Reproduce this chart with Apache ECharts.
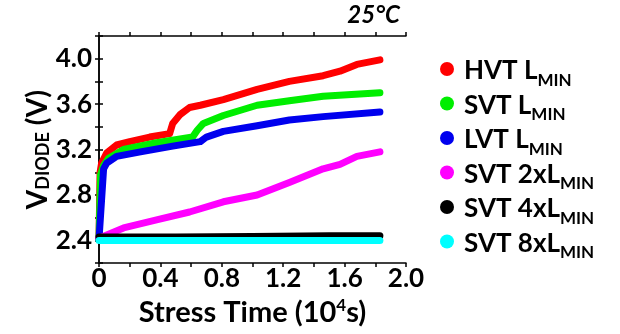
<!DOCTYPE html>
<html><head><meta charset="utf-8">
<script src="https://cdn.jsdelivr.net/npm/echarts@6/dist/echarts.min.js"></script>
<style>html,body{margin:0;padding:0;background:#fff}#c{width:620px;height:334px}</style>
</head><body><div id="c"></div>
<script>
const seriesNames = ['HVT LMIN','SVT LMIN','LVT LMIN','SVT 2xLMIN','SVT 4xLMIN','SVT 8xLMIN'];
const legendMain = ['HVT L','SVT L','LVT L','SVT 2xL','SVT 4xL','SVT 8xL'];
const legendSub = 'MIN';
const colors = ['#ff0000','#00ee00','#0000ee','#ff00ff','#000000','#00ffff'];

const hvtX = [0, 0.007, 0.017, 0.05, 0.115, 0.2, 0.33, 0.46, 0.48, 0.53, 0.59, 0.66, 0.81, 1.03, 1.24, 1.46, 1.57, 1.68, 1.83];
const hvtY = [2.41, 3.0, 3.08, 3.17, 3.24, 3.27, 3.31, 3.34, 3.43, 3.51, 3.57, 3.59, 3.64, 3.73, 3.80, 3.85, 3.89, 3.95, 3.99];
const svtX = [0, 0.01, 0.03, 0.06, 0.16, 0.375, 0.61, 0.64, 0.68, 0.81, 1.03, 1.24, 1.46, 1.83];
const svtY = [2.41, 2.98, 3.06, 3.12, 3.2, 3.26, 3.31, 3.37, 3.43, 3.50, 3.59, 3.63, 3.67, 3.70];
const lvtX = [0, 0.03, 0.05, 0.115, 0.27, 0.48, 0.66, 0.70, 0.81, 1.03, 1.24, 1.46, 1.83];
const lvtY = [2.41, 3.03, 3.08, 3.14, 3.18, 3.23, 3.27, 3.31, 3.36, 3.41, 3.46, 3.49, 3.53];
const svt2X = [0, 0.16, 0.375, 0.59, 0.81, 1.03, 1.24, 1.46, 1.57, 1.68, 1.83];
const svt2Y = [2.42, 2.51, 2.58, 2.65, 2.74, 2.80, 2.91, 3.03, 3.07, 3.14, 3.18];
const svt4X = [0, 0.5, 1.0, 1.5, 1.83];
const svt4Y = [2.43, 2.43, 2.435, 2.44, 2.44];
const svt8X = [0, 0.5, 1.0, 1.5, 1.83];
const svt8Y = [2.40, 2.40, 2.40, 2.40, 2.40];

const allX = [hvtX, svtX, lvtX, svt2X, svt4X, svt8X];
const allY = [hvtY, svtY, lvtY, svt2Y, svt4Y, svt8Y];

const FF = 'Lato, "DejaVu Sans", sans-serif';
const chart = echarts.init(document.getElementById('c'), null, {renderer:'canvas'});

const series = seriesNames.map((n, i) => ({
  name: n, type: 'line', showSymbol: false, symbol: 'circle', symbolSize: 8,
  data: allX[i].map((x, k) => [x, allY[i][k]]),
  lineStyle: {color: colors[i], width: 7, cap: 'round', join: 'round'},
  itemStyle: {color: colors[i]},
  animation: false, z: 2 + i
}));

const tick = {show: true, inside: false, length: 4, lineStyle: {color: '#000', width: 1.5}};
const axisLine = {show: true, lineStyle: {color: '#000', width: 1.5}};

chart.setOption({
  backgroundColor: '#fff',
  animation: false,
  grid: {left: 99, right: 214, top: 36, bottom: 66, containLabel: false},
  xAxis: [
    {
      type: 'value', min: 0, max: 2.0, interval: 0.2, position: 'bottom',
      axisLine: axisLine, axisTick: tick, splitLine: {show: false},
      axisLabel: {margin: 3, color: '#000', fontFamily: FF, fontWeight: 'bold', fontSize: 26,
        formatter: v => { const r = Math.round(v * 10); if (r % 4 !== 0) return ''; return r === 0 ? '0' : (r / 10).toFixed(1); }},
      name: 'Stress Time (10{sup|4}s)', nameLocation: 'middle', nameGap: 33,
      nameTextStyle: {color: '#000', fontFamily: FF, fontWeight: 'bold', fontSize: 29, lineHeight: 32,
        rich: {sup: {fontFamily: FF, fontWeight: 'bold', fontSize: 17, lineHeight: 32, verticalAlign: 'top', padding: [0,0,12,0]}}}
    },
    {
      type: 'value', min: 0, max: 2.0, interval: 0.2, position: 'top',
      axisLine: axisLine, axisTick: tick, splitLine: {show: false}, axisLabel: {show: false}
    }
  ],
  yAxis: [
    {
      type: 'value', min: 2.2, max: 4.2, interval: 0.2, position: 'left',
      axisLine: axisLine, axisTick: tick, splitLine: {show: false},
      axisLabel: {margin: 7, padding: [3,0,0,0], color: '#000', fontFamily: FF, fontWeight: 'bold', fontSize: 26,
        formatter: v => { const r = Math.round(v * 10); if ((r - 24) % 4 !== 0) return ''; return (r / 10).toFixed(1); }},
      name: 'V{sub|DIODE} (V)', nameLocation: 'middle', nameGap: 46, nameRotate: 90,
      nameTextStyle: {color: '#000', fontFamily: FF, fontWeight: 'bold', fontSize: 28,
        rich: {sub: {fontFamily: FF, fontWeight: 'bold', fontSize: 18, verticalAlign: 'bottom', padding: [9,0,0,0]}}}
    },
    {
      type: 'value', min: 2.2, max: 4.2, interval: 0.2, position: 'right',
      axisLine: axisLine, axisTick: tick, splitLine: {show: false}, axisLabel: {show: false}
    }
  ],
  legend: {
    orient: 'vertical', left: 435, top: 53, icon: 'circle', itemWidth: 14, itemHeight: 14, itemGap: 3.5,
    data: seriesNames,
    formatter: name => { const i = seriesNames.indexOf(name); return '{a|' + legendMain[i] + '}{s|' + legendSub + '}'; },
    textStyle: {padding: [0,0,0,5], rich: {
      a: {fontFamily: FF, fontWeight: 'bold', fontSize: 26, color: '#000', lineHeight: 30, verticalAlign: 'bottom'},
      s: {fontFamily: FF, fontWeight: 'bold', fontSize: 17, color: '#000', lineHeight: 30, verticalAlign: 'bottom', padding: [0,0,-5,0]}
    }}
  },
  graphic: [{type: 'text', right: 220, top: 3, style: {text: '25°C', font: 'italic bold 24px ' + FF, fill: '#000'}}],
  series: series
});
</script></body></html>
